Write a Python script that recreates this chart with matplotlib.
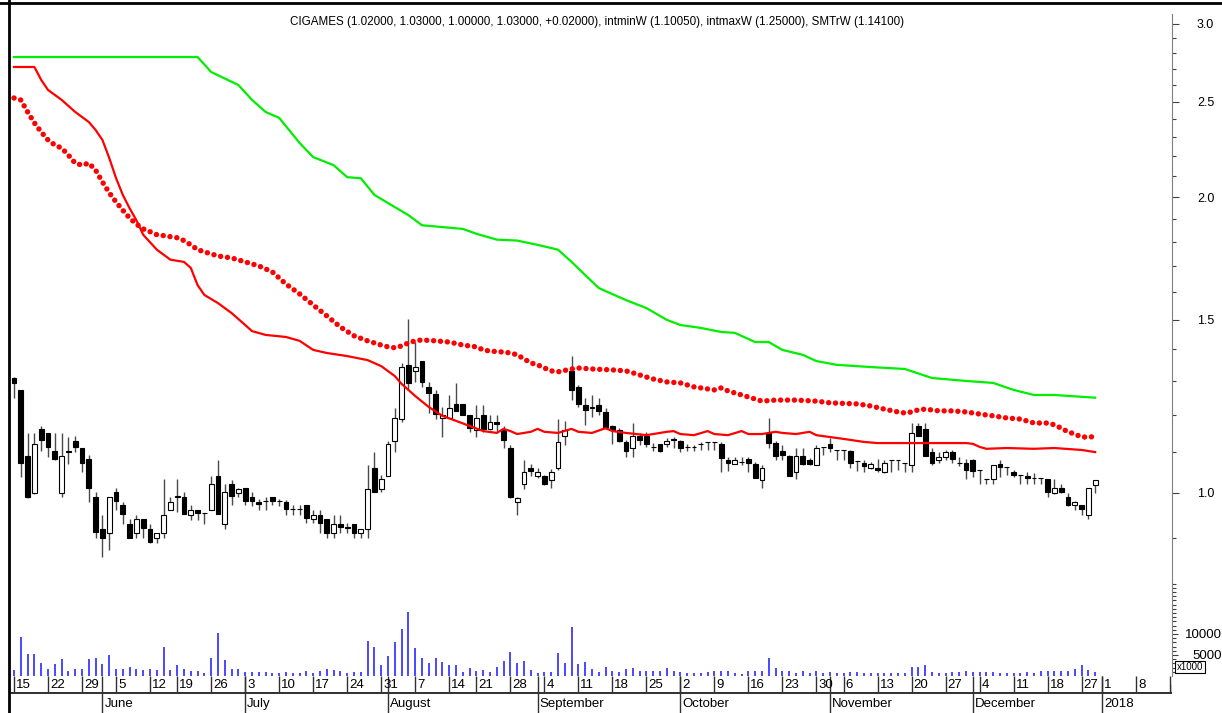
import numpy as np
import pandas as pd
import matplotlib
matplotlib.use("Agg")
import matplotlib.pyplot as plt
from matplotlib.lines import Line2D
from matplotlib.ticker import FixedLocator, FixedFormatter, NullFormatter

# ---- data ----
# trading days of the Warsaw exchange, 15 May .. 29 Dec 2017
holidays = ["2017-06-15", "2017-08-15", "2017-11-01", "2017-12-25", "2017-12-26"]
dates = pd.bdate_range("2017-05-15", "2017-12-29").drop(pd.to_datetime(holidays))
future = pd.bdate_range("2018-01-01", "2018-01-19")

opens = [
    1.309, 1.273, 1.091, 1.000, 1.162, 1.151, 1.103, 1.000, 1.103, 1.130,
    1.111, 1.083, 0.991, 0.919, 0.911, 1.002, 0.972, 0.930, 0.911, 0.941,
    0.919, 0.900, 0.911, 0.961, 0.993, 0.991, 0.950, 0.961, 0.954, 0.961,
    1.041, 0.930, 1.021, 1.000, 1.012, 0.991, 0.979, 0.981, 0.991, 0.981,
    0.979, 0.963, 0.963, 0.972, 0.941, 0.950, 0.941, 0.911, 0.930, 0.923,
    0.930, 0.911, 0.919, 1.060, 1.009, 1.041, 1.130, 1.189, 1.350, 1.331,
    1.362, 1.282, 1.261, 1.192, 1.192, 1.232, 1.232, 1.200, 1.159, 1.200,
    1.162, 1.181, 1.159, 1.111, 0.979, 1.021, 1.060, 1.041, 1.041, 1.031,
    1.060, 1.143, 1.331, 1.282, 1.229, 1.221, 1.229, 1.209, 1.170, 1.159,
    1.127, 1.111, 1.143, 1.143, 1.114, 1.122, 1.122, 1.135, 1.130, 1.114,
    1.114, 1.122, 1.127, 1.127, 1.122, 1.080, 1.070, 1.075, 1.083, 1.070,
    1.031, 1.151, 1.124, 1.103, 1.091, 1.050, 1.091, 1.080, 1.068, 1.114,
    1.122, 1.106, 1.106, 1.103, 1.078, 1.073, 1.060, 1.060, 1.050, 1.080,
    1.080, 1.073, 1.068, 1.170, 1.162, 1.101, 1.080, 1.088, 1.101, 1.073,
    1.073, 1.080, 1.055, 1.033, 1.033, 1.070, 1.063, 1.050, 1.043, 1.041,
    1.036, 1.036, 1.033, 1.000, 1.012, 0.991, 0.972, 0.972, 0.950, 1.020,
]
highs = [
    1.312, 1.273, 1.151, 1.151, 1.170, 1.151, 1.151, 1.151, 1.140, 1.143,
    1.111, 1.093, 1.002, 0.950, 0.991, 1.012, 0.979, 0.941, 0.950, 0.941,
    0.930, 0.911, 1.033, 0.991, 1.033, 1.002, 0.972, 0.961, 0.954, 1.041,
    1.080, 1.021, 1.031, 1.012, 1.012, 1.002, 0.986, 0.991, 0.991, 0.986,
    0.984, 0.972, 0.972, 0.972, 0.961, 0.961, 0.941, 0.950, 0.950, 0.932,
    0.930, 0.919, 1.068, 1.101, 1.043, 1.130, 1.220, 1.356, 1.503, 1.424,
    1.362, 1.297, 1.273, 1.223, 1.258, 1.294, 1.232, 1.200, 1.229, 1.229,
    1.200, 1.200, 1.170, 1.119, 0.991, 1.080, 1.070, 1.060, 1.043, 1.058,
    1.189, 1.184, 1.378, 1.288, 1.249, 1.258, 1.249, 1.220, 1.173, 1.164,
    1.132, 1.178, 1.151, 1.154, 1.124, 1.122, 1.137, 1.140, 1.132, 1.122,
    1.119, 1.127, 1.127, 1.127, 1.127, 1.088, 1.088, 1.088, 1.088, 1.075,
    1.068, 1.192, 1.130, 1.119, 1.093, 1.111, 1.111, 1.085, 1.119, 1.114,
    1.137, 1.106, 1.106, 1.106, 1.078, 1.080, 1.075, 1.083, 1.080, 1.080,
    1.080, 1.073, 1.178, 1.178, 1.178, 1.111, 1.101, 1.106, 1.106, 1.088,
    1.083, 1.083, 1.055, 1.033, 1.068, 1.080, 1.063, 1.055, 1.043, 1.050,
    1.048, 1.036, 1.033, 1.033, 1.021, 1.000, 0.981, 0.972, 1.012, 1.030,
]
lows = [
    1.249, 1.038, 0.988, 0.998, 1.103, 1.088, 1.080, 0.991, 1.070, 1.101,
    1.050, 0.979, 0.900, 0.861, 0.875, 0.961, 0.930, 0.900, 0.900, 0.900,
    0.890, 0.890, 0.900, 0.961, 0.956, 0.952, 0.939, 0.939, 0.930, 0.961,
    0.952, 0.919, 0.972, 0.991, 0.972, 0.970, 0.961, 0.961, 0.972, 0.970,
    0.950, 0.950, 0.950, 0.932, 0.932, 0.911, 0.900, 0.900, 0.911, 0.911,
    0.900, 0.900, 0.900, 1.002, 1.002, 1.041, 1.101, 1.181, 1.273, 1.297,
    1.282, 1.206, 1.189, 1.140, 1.192, 1.212, 1.200, 1.154, 1.140, 1.154,
    1.159, 1.154, 1.111, 0.988, 0.950, 1.009, 1.041, 1.036, 1.019, 1.012,
    1.055, 1.119, 1.243, 1.223, 1.173, 1.195, 1.200, 1.162, 1.122, 1.127,
    1.088, 1.088, 1.119, 1.114, 1.103, 1.101, 1.114, 1.111, 1.101, 1.103,
    1.103, 1.106, 1.106, 1.106, 1.050, 1.053, 1.070, 1.068, 1.050, 1.036,
    1.012, 1.111, 1.080, 1.080, 1.041, 1.033, 1.068, 1.068, 1.068, 1.093,
    1.101, 1.080, 1.080, 1.060, 1.053, 1.050, 1.058, 1.050, 1.048, 1.050,
    1.055, 1.050, 1.050, 1.143, 1.091, 1.068, 1.073, 1.080, 1.073, 1.065,
    1.033, 1.038, 1.021, 1.021, 1.021, 1.038, 1.043, 1.038, 1.021, 1.021,
    1.021, 1.021, 0.991, 0.998, 1.000, 0.970, 0.961, 0.950, 0.941, 1.000,
]
closes = [
    1.294, 1.073, 0.991, 1.122, 1.132, 1.114, 1.083, 1.091, 1.101, 1.114,
    1.073, 1.012, 0.913, 0.900, 0.991, 0.981, 0.952, 0.900, 0.941, 0.921,
    0.892, 0.911, 0.950, 0.979, 0.991, 0.952, 0.961, 0.954, 0.954, 1.021,
    0.952, 1.002, 0.993, 1.009, 0.981, 0.981, 0.975, 0.981, 0.981, 0.981,
    0.963, 0.963, 0.963, 0.943, 0.950, 0.932, 0.911, 0.930, 0.923, 0.921,
    0.911, 0.919, 1.009, 1.002, 1.033, 1.122, 1.192, 1.343, 1.294, 1.343,
    1.297, 1.264, 1.203, 1.200, 1.220, 1.212, 1.200, 1.164, 1.192, 1.162,
    1.181, 1.175, 1.132, 0.991, 0.988, 1.050, 1.053, 1.050, 1.021, 1.050,
    1.127, 1.159, 1.273, 1.232, 1.215, 1.223, 1.212, 1.164, 1.159, 1.130,
    1.103, 1.143, 1.132, 1.122, 1.114, 1.103, 1.130, 1.132, 1.111, 1.114,
    1.114, 1.122, 1.127, 1.127, 1.085, 1.073, 1.080, 1.075, 1.073, 1.036,
    1.060, 1.124, 1.091, 1.093, 1.041, 1.091, 1.070, 1.070, 1.111, 1.114,
    1.111, 1.106, 1.106, 1.073, 1.078, 1.065, 1.070, 1.055, 1.073, 1.080,
    1.080, 1.073, 1.151, 1.143, 1.091, 1.073, 1.088, 1.101, 1.083, 1.073,
    1.055, 1.053, 1.055, 1.033, 1.068, 1.063, 1.063, 1.043, 1.043, 1.036,
    1.036, 1.036, 1.002, 1.012, 1.002, 0.972, 0.979, 0.963, 1.012, 1.030,
]
# volume in thousands of shares
volume = [
    1400, 9300, 5200, 5200, 3200, 1700, 2900, 4000, 1300, 1700,
    1700, 4000, 4400, 2900, 5000, 1700, 1700, 2200, 1700, 1400,
    1700, 1400, 7000, 1400, 2600, 1700, 1300, 1300, 600, 4400,
    10200, 3800, 1700, 1700, 950, 950, 950, 950, 600, 600,
    950, 600, 800, 1300, 600, 1300, 1700, 1400, 1300, 600,
    950, 950, 8400, 7000, 2600, 4800, 8200, 11200, 15300, 6700,
    4200, 3200, 4200, 3400, 2600, 2600, 950, 2000, 1300, 1400,
    950, 2200, 3600, 5600, 3000, 3600, 1400, 600, 950, 950,
    5400, 3200, 11700, 2900, 3400, 1700, 950, 2200, 1300, 950,
    1600, 1900, 1300, 1100, 1300, 1300, 2000, 1100, 950, 800,
    800, 800, 950, 1300, 1300, 1100, 800, 480, 1100, 1300,
    1300, 4200, 1800, 1300, 1300, 800, 1300, 800, 1300, 800,
    950, 800, 800, 950, 950, 800, 800, 800, 800, 800,
    800, 800, 2200, 2200, 2600, 950, 800, 800, 950, 950,
    1100, 950, 950, 950, 950, 800, 800, 800, 800, 950,
    800, 1100, 1300, 1100, 1100, 1300, 1600, 2600, 1400, 950,
]

# indicator lines, read at trading-day index
intmax_idx = [0, 27, 29, 33, 35, 37, 39, 42, 44, 47, 49, 51, 53, 55, 58, 60, 63, 66, 68, 71,
              74, 77, 80, 82, 84, 86, 90, 93, 96, 98, 101, 104, 106, 109, 111, 113, 116, 118,
              121, 126, 131, 135, 140, 144, 147, 150, 153, 159]
intmax_val = [2.776, 2.776, 2.680, 2.600, 2.511, 2.441, 2.407, 2.270, 2.196, 2.155,
              2.095, 2.090, 2.010, 1.972, 1.917, 1.872, 1.864, 1.856, 1.835, 1.810,
              1.806, 1.788, 1.768, 1.718, 1.666, 1.616, 1.571, 1.542, 1.500, 1.482,
              1.472, 1.458, 1.455, 1.424, 1.424, 1.398, 1.382, 1.362, 1.350, 1.343,
              1.337, 1.309, 1.300, 1.294, 1.273, 1.258, 1.258, 1.250]

intmin_idx = [0, 3, 4, 5, 7, 9, 11, 12, 13, 14, 15, 16, 17, 18, 19, 21, 23, 25, 26, 27,
              28, 30, 32, 34, 35, 37, 40, 42, 44, 46, 49, 52, 54, 56, 57, 58, 59, 61, 63, 65,
              67, 69, 71, 72, 73, 74, 76, 77, 78, 80, 82, 83, 85, 87, 88, 90, 93, 96, 97, 98,
              100, 102, 103, 105, 107, 108, 110, 112, 113, 115, 117, 118, 120, 122, 125, 127,
              140, 141, 142, 143, 146, 150, 153, 157, 159]
intmin_val = [2.712, 2.712, 2.631, 2.570, 2.511, 2.441, 2.384, 2.340, 2.286, 2.192,
              2.091, 2.010, 1.948, 1.894, 1.831, 1.768, 1.727, 1.718, 1.694, 1.627,
              1.590, 1.560, 1.524, 1.482, 1.461, 1.448, 1.441, 1.428, 1.398, 1.388,
              1.378, 1.365, 1.346, 1.315, 1.291, 1.273, 1.255, 1.223, 1.198, 1.184,
              1.170, 1.156, 1.151, 1.162, 1.156, 1.148, 1.154, 1.162, 1.154, 1.151,
              1.162, 1.154, 1.151, 1.164, 1.156, 1.151, 1.145, 1.154, 1.156, 1.148,
              1.145, 1.156, 1.148, 1.145, 1.156, 1.148, 1.148, 1.154, 1.151, 1.148,
              1.154, 1.145, 1.140, 1.135, 1.127, 1.124,
              1.124, 1.122, 1.114, 1.109, 1.111, 1.109, 1.111, 1.106, 1.1005]

smtr_idx = list(range(23)) + [24, 25, 26, 27, 28, 30, 32, 34, 36, 38, 40, 42, 44, 46, 48,
            50, 52, 54, 55, 56, 57, 58, 59, 60, 62, 64, 66, 68, 69, 70, 72, 73, 74, 75, 76,
            77, 78, 79, 80, 82, 83, 85, 88, 90, 91, 93, 94, 96, 98, 99, 100, 102, 103, 104,
            105, 106, 107, 108, 109, 110, 112, 115, 118, 120, 124, 126, 128, 130, 131, 132,
            133, 134, 136, 138, 140, 141, 142, 144, 146, 148, 150, 152, 153, 154, 155, 156,
            157, 158, 159]
smtr_val = [2.522, 2.510, 2.441, 2.379, 2.329, 2.286, 2.259, 2.243, 2.206, 2.165,
            2.155, 2.165, 2.130, 2.072, 2.020, 1.977, 1.939, 1.904, 1.877, 1.856,
            1.844, 1.831, 1.827, 1.818, 1.806, 1.788, 1.768, 1.759,
            1.742, 1.734, 1.718, 1.702, 1.678, 1.631, 1.594, 1.553, 1.514, 1.475,
            1.445, 1.428, 1.414, 1.408, 1.405, 1.411, 1.421, 1.428, 1.431, 1.428,
            1.424, 1.414, 1.408, 1.398, 1.394, 1.391, 1.388, 1.382, 1.369, 1.356,
            1.350, 1.340, 1.331, 1.328, 1.337, 1.340, 1.337, 1.334, 1.331, 1.325,
            1.312, 1.306, 1.297, 1.294, 1.288, 1.282, 1.276, 1.273, 1.279, 1.270,
            1.264, 1.258, 1.252, 1.246, 1.240, 1.243, 1.243, 1.240, 1.235, 1.232,
            1.226, 1.217, 1.209, 1.206, 1.209, 1.215, 1.217, 1.212, 1.212, 1.209,
            1.206, 1.203, 1.198, 1.192, 1.189, 1.178, 1.178, 1.173, 1.164, 1.154,
            1.148, 1.140, 1.140, 1.141]

title = ("CIGAMES (1.02000, 1.03000, 1.00000, 1.03000, +0.02000), intminW (1.10050), "
         "intmaxW (1.25000), SMTrW (1.14100)")

# ---- layout ----
W, H = 1222, 713
SANS = ["Liberation Sans", "DejaVu Sans"]
fig = plt.figure(figsize=(W / 100, H / 100), dpi=100)


def px_axes(x0, y0, x1, y1):
    return fig.add_axes([x0 / W, 1 - y1 / H, (x1 - x0) / W, (y1 - y0) / H])


ax = px_axes(10, 14, 1172, 583)
axv = px_axes(10, 583, 1172, 676)
axd = px_axes(10, 676, 1172, 713)
XL = (-0.59, 170.3)
for a in (ax, axv, axd):
    a.set_xlim(*XL)
    a.set_facecolor("none")
    for s in ("top", "bottom", "left"):
        a.spines[s].set_visible(False)
    a.spines["right"].set_color("#808080")
    a.tick_params(axis="x", bottom=False, labelbottom=False)
axd.spines["right"].set_visible(False)
axd.set_yticks([])

# ---- candles ----
x = np.arange(len(closes))
o, h, l, c = (np.array(v) for v in (opens, highs, lows, closes))
up = c >= o
ax.vlines(x, l, h, color="#4a4a4a", lw=1.0, zorder=2)
ax.bar(x[~up], (o - c)[~up], bottom=c[~up], width=0.72, color="black",
       edgecolor="black", lw=0.8, zorder=3)
ax.bar(x[up], (c - o)[up], bottom=o[up], width=0.72, color="white",
       edgecolor="black", lw=0.8, zorder=3)

# ---- indicators ----
ax.plot(intmax_idx, intmax_val, color="#00ee00", lw=1.6, zorder=4)
ax.plot(intmin_idx, intmin_val, color="#ff0000", lw=1.6, zorder=4)
ax.plot(smtr_idx, smtr_val, color="#ff0000", lw=3.9, linestyle=(0, (0.01, 1.26)),
        dash_capstyle="round", zorder=4)

ax.set_yscale("log")
ax.set_ylim(0.8099, 3.0703)
ax.yaxis.tick_right()
ax.yaxis.set_major_locator(FixedLocator([1.0, 1.5, 2.0, 2.5, 3.0]))
ax.yaxis.set_major_formatter(FixedFormatter(["1.0", "1.5", "2.0", "2.5", "3.0"]))
minor = [v / 10 for v in range(9, 30) if v % 5 != 0]
ax.yaxis.set_minor_locator(FixedLocator(minor))
ax.yaxis.set_minor_formatter(NullFormatter())
ax.tick_params(axis="y", which="major", length=5, width=0.8, color="#404040",
               pad=13, labelsize=9)
ax.tick_params(axis="y", which="minor", length=3, width=0.8, color="#404040")
for t in ax.get_yticklabels():
    t.set_family(SANS)

# ---- volume ----
axv.vlines(x, 0, volume, color="#2a2aff", lw=1.2)
axv.set_ylim(0, 22134)
axv.yaxis.tick_right()
axv.yaxis.set_major_locator(FixedLocator([5000, 10000]))
axv.yaxis.set_major_formatter(FixedFormatter(["5000", "10000"]))
axv.yaxis.set_minor_locator(FixedLocator(list(range(1000, 22001, 1000))))
axv.tick_params(axis="y", which="major", length=4, width=0.8, color="#404040",
                pad=32, labelsize=9.5)
axv.tick_params(axis="y", which="minor", length=3, width=0.8, color="#404040")
for t in axv.get_yticklabels():
    t.set_horizontalalignment("right")
    t.set_family(SANS)
fig.text(1190 / W, 1 - 667 / H, "x1000", fontsize=7, ha="center", va="center",
         family=SANS,
         bbox=dict(boxstyle="square,pad=0.15", fc="white", ec="black", lw=0.8))

# ---- date axis ----
axd.set_ylim(0, 37)
axd.axhline(20, color="#202020", lw=1.3)
axd.plot([XL[1], XL[1]], [20, 28], color="#202020", lw=1)
alld = dates.append(future)
pos = np.arange(len(alld))
wk = alld.isocalendar().week.values
for i in pos:
    d = alld[i]
    if i == 0 or wk[i] != wk[i - 1]:
        axd.vlines(i, 20, 37, color="#303030", lw=1)
        axd.text(i + 0.3, 28, str(d.day), ha="left", va="center", fontsize=9.5,
                 family=SANS, clip_on=True)
    if i > 0 and d.month != alld[i - 1].month:
        axd.vlines(i, 0, 37, color="#303030", lw=1)
        name = str(d.year) if d.month == 1 else d.strftime("%B")
        axd.text(i + 0.3, 9, name, ha="left", va="center", fontsize=9.5,
                 family=SANS, clip_on=True)

# frame lines
fig.add_artist(Line2D([9 / W, 9 / W], [0, 1], color="black", lw=2))
fig.add_artist(Line2D([0, 1], [1 - 3 / H, 1 - 3 / H], color="black", lw=2))

fig.text(597 / W, 1 - 22 / H, title, ha="center", va="center", fontsize=8.4,
         family=SANS)

fig.savefig("out.png", dpi=100)
